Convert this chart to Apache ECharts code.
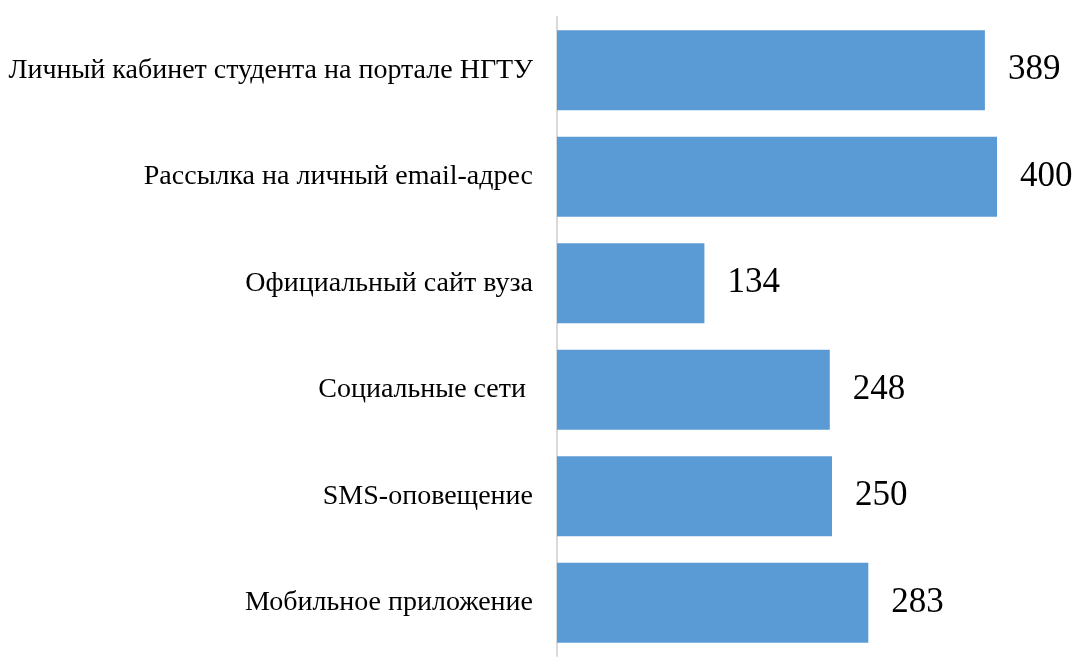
<!DOCTYPE html>
<html><head><meta charset="utf-8">
<script src="https://cdn.jsdelivr.net/npm/echarts@6/dist/echarts.min.js"></script>
<style>html,body{margin:0;padding:0;background:#fff}#c{width:1078px;height:657px}</style>
</head><body><div id="c"></div>
<script>
const categories = ["Личный кабинет студента на портале НГТУ","Рассылка на личный email-адрес","Официальный сайт вуза","Социальные сети ","SMS-оповещение","Мобильное приложение"];
const values = [389, 400, 134, 248, 250, 283];
const chart = echarts.init(document.getElementById('c'));
chart.setOption({
  animation:false,
  grid:{left:557,right:26,top:17,bottom:1,containLabel:false},
  xAxis:{type:'value',min:0,max:450,show:false},
  yAxis:{type:'category',data:categories,inverse:true,
    axisLine:{show:true,lineStyle:{color:'#d9d9d9',width:2}},
    axisTick:{show:false},
    axisLabel:{fontFamily:'Liberation Serif',fontSize:28,color:'#000',margin:24,padding:[8,0,0,0]}},
  series:[{type:'bar',data:values,barCategoryGap:'25%',
    itemStyle:{color:'#5b9bd5'},
    label:{show:true,position:'right',distance:23,fontFamily:'Liberation Serif',fontSize:35,color:'#000',padding:[6,0,0,0]}}]
});
</script></body></html>
